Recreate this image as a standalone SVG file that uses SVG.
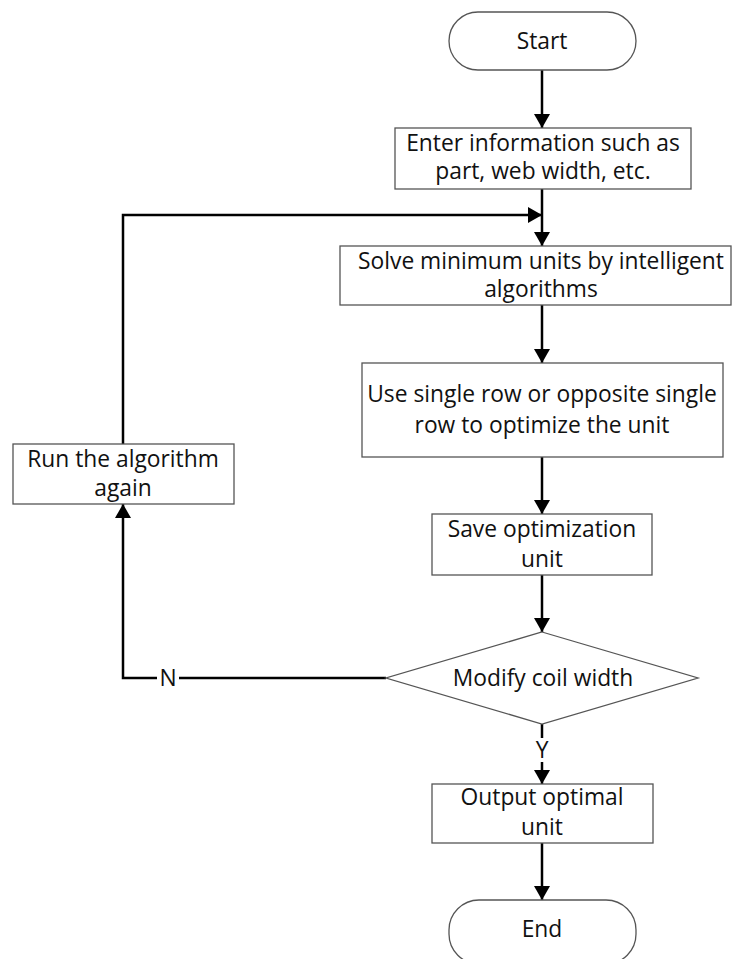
<svg xmlns="http://www.w3.org/2000/svg" width="736" height="959" viewBox="0 0 736 959">
<style>
.box{fill:#fff;stroke:#555;stroke-width:1.3}
.t{font-family:"Open Sans","Liberation Sans",sans-serif;font-size:22.8px;fill:#111;text-anchor:middle}
.c{fill:none;stroke:#000;stroke-width:2.5}
</style>
<defs>
<marker id="ah" viewBox="0 0 14 16" refX="14" refY="8" markerWidth="14" markerHeight="16" markerUnits="userSpaceOnUse" orient="auto">
<path d="M0,0 L14,8 L0,16 Z" fill="#000"/>
</marker>
</defs>
<rect width="736" height="959" fill="#fff"/>
<g id="connectors">
<path class="c" d="M542,70 V128" marker-end="url(#ah)"/>
<path class="c" d="M542,189 V246" marker-end="url(#ah)"/>
<path class="c" d="M123,444 V215 H542" marker-end="url(#ah)"/>
<path class="c" d="M542,305 V363" marker-end="url(#ah)"/>
<path class="c" d="M542,457 V514" marker-end="url(#ah)"/>
<path class="c" d="M542,575 V632" marker-end="url(#ah)"/>
<path class="c" d="M386,678 H123 V504" marker-end="url(#ah)"/>
<path class="c" d="M542,724 V784" marker-end="url(#ah)"/>
<path class="c" d="M542,843 V900" marker-end="url(#ah)"/>
<rect x="157" y="666" width="22" height="24" fill="#fff"/>
<text class="t" x="168" y="686">N</text>
<rect x="531" y="738" width="22" height="24" fill="#fff"/>
<text class="t" x="542" y="758">Y</text>
</g>
<g id="start">
<rect class="box" x="449" y="12" width="187" height="58" rx="29"/>
<text class="t" x="542" y="49">Start</text>
</g>
<g id="enter">
<rect class="box" x="395" y="128" width="296" height="61"/>
<text class="t" x="543" y="151">Enter information such as</text>
<text class="t" x="543" y="179">part, web width, etc.</text>
</g>
<g id="solve">
<rect class="box" x="340" y="246" width="391" height="59"/>
<text class="t" x="541" y="269">Solve minimum units by intelligent</text>
<text class="t" x="541" y="297">algorithms</text>
</g>
<g id="use">
<rect class="box" x="362" y="363" width="361" height="94"/>
<text class="t" x="542" y="402">Use single row or opposite single</text>
<text class="t" x="542" y="433">row to optimize the unit</text>
</g>
<g id="run">
<rect class="box" x="13" y="444" width="221" height="60"/>
<text class="t" x="123" y="467">Run the algorithm</text>
<text class="t" x="123" y="496">again</text>
</g>
<g id="save">
<rect class="box" x="432" y="514" width="220" height="61"/>
<text class="t" x="542" y="537">Save optimization</text>
<text class="t" x="542" y="567">unit</text>
</g>
<g id="decision">
<polygon class="box" points="542,632 698,678 542,724 386,678"/>
<text class="t" x="543" y="686">Modify coil width</text>
</g>
<g id="output">
<rect class="box" x="432" y="784" width="221" height="59"/>
<text class="t" x="542" y="805">Output optimal</text>
<text class="t" x="542" y="835">unit</text>
</g>
<g id="end">
<rect class="box" x="449" y="900" width="187" height="64" rx="30"/>
<text class="t" x="542" y="937">End</text>
</g>
</svg>
